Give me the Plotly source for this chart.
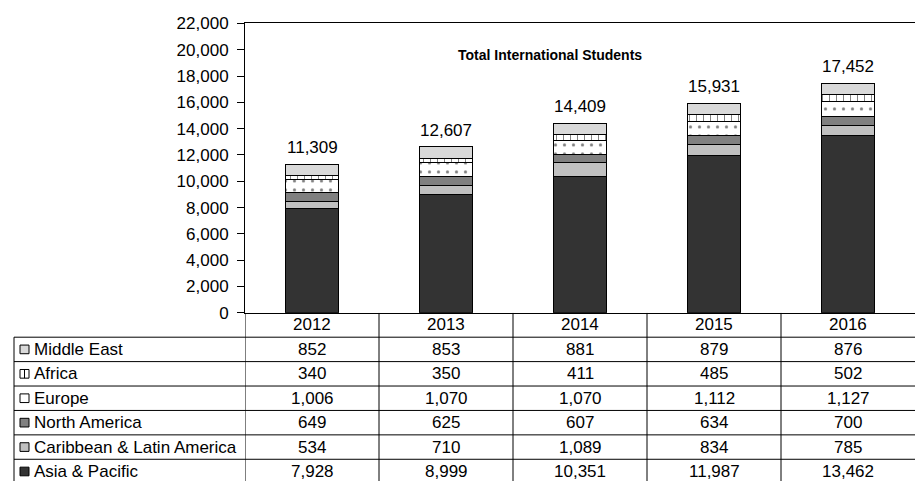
import plotly.graph_objects as go

years = ["2012", "2013", "2014", "2015", "2016"]
asia_pacific = [7928, 8999, 10351, 11987, 13462]
caribbean_latin = [534, 710, 1089, 834, 785]
north_america = [649, 625, 607, 634, 700]
europe = [1006, 1070, 1070, 1112, 1127]
africa = [340, 350, 411, 485, 502]
middle_east = [852, 853, 881, 879, 876]
y_ticks = list(range(0, 22001, 2000))

title_text = "Total International Students"

# stacking order bottom -> top
series = [
    ("Asia & Pacific", asia_pacific, dict(color="#333333")),
    ("Caribbean & Latin America", caribbean_latin, dict(color="#c0c0c0")),
    ("North America", north_america, dict(color="#808080")),
    ("Europe", europe, dict(color="white", pattern=dict(shape=".", fgcolor="black", bgcolor="white", size=9, solidity=0.1))),
    ("Africa", africa, dict(color="white", pattern=dict(shape="|", fgcolor="black", bgcolor="white", size=7, solidity=0.14))),
    ("Middle East", middle_east, dict(color="#d9d9d9")),
]
# table row order top -> bottom
table_order = ["Middle East", "Africa", "Europe", "North America", "Caribbean & Latin America", "Asia & Pacific"]

W, H = 915, 491
FONT = "Liberation Sans, Arial, sans-serif"
FS = 17
plot_left, plot_bottom, plot_top = 245, 316, 15
row_h = 25.4
table_px = H - plot_bottom
table_rows = table_px / row_h
table_left = 14
xidx = list(range(len(years)))

fig = go.Figure()
for name, vals, mk in series:
    fig.add_trace(go.Bar(
        x=xidx, y=vals, name=name, width=0.4,
        marker=dict(**mk, line=dict(color="black", width=1)),
        showlegend=False, hoverinfo="skip",
    ))

totals = [sum(v) for v in zip(*[s[1] for s in series])]

annotations = []
for i, t in zip(xidx, totals):
    annotations.append(dict(x=i, y=t, xref="x", yref="y", text=f"{t:,}",
                            showarrow=False, yanchor="bottom", yshift=5,
                            font=dict(size=FS, color="black", family=FONT)))
annotations.append(dict(x=550 / W, y=1 - 48 / H, xref="paper", yref="paper",
                        text=f"<b>{title_text}</b>", showarrow=False,
                        xanchor="center", yanchor="middle",
                        font=dict(size=14, color="black", family=FONT)))

# header years
for i, yr in zip(xidx, years):
    annotations.append(dict(x=i, y=0.5, xref="x", yref="y2", text=yr, showarrow=False,
                            yanchor="middle",
                            font=dict(size=FS, color="black", family=FONT)))

lookup = {s[0]: s for s in series}
shapes = []
line = dict(color="black", width=1)
sw_half = 4.5 / row_h
for r, name in enumerate(table_order, start=1):
    vals = lookup[name][1]
    annotations.append(dict(x=32 / W, y=r + 0.5, xref="paper", yref="y2", text=name,
                            showarrow=False, xanchor="left", yanchor="middle",
                            font=dict(size=FS, color="black", family=FONT)))
    for i, v in zip(xidx, vals):
        annotations.append(dict(x=i, y=r + 0.5, xref="x", yref="y2", text=f"{v:,}",
                                showarrow=False, yanchor="middle",
                                font=dict(size=FS, color="black", family=FONT)))
    # legend swatch
    shapes.append(dict(type="rect", xref="paper", yref="y2", x0=20 / W, x1=29 / W,
                       y0=r + 0.5 - sw_half, y1=r + 0.5 + sw_half,
                       fillcolor=lookup[name][2]["color"], line=line, layer="above"))
    if name == "Africa":
        shapes.append(dict(type="line", xref="paper", yref="y2", x0=24.5 / W, x1=24.5 / W,
                           y0=r + 0.5 - sw_half, y1=r + 0.5 + sw_half, line=line))

for r in range(1, len(table_order) + 1):
    shapes.append(dict(type="line", xref="paper", yref="y2", x0=table_left / W, x1=1,
                       y0=r, y1=r, line=line))
for i in xidx:
    shapes.append(dict(type="line", xref="x", yref="y2", x0=i - 0.5, x1=i - 0.5,
                       y0=0, y1=table_rows, line=line))
shapes.append(dict(type="line", xref="paper", yref="y2", x0=table_left / W, x1=table_left / W,
                   y0=1, y1=table_rows, line=line))

# keep the second axis alive
fig.add_trace(go.Scatter(x=[0], y=[0.5], xaxis="x", yaxis="y2", mode="markers",
                         marker=dict(opacity=0), showlegend=False, hoverinfo="skip"))

fig.update_layout(
    width=W, height=H,
    margin=dict(l=0, r=0, t=0, b=0),
    paper_bgcolor="white", plot_bgcolor="white",
    barmode="stack",
    font=dict(family=FONT, color="black"),
    xaxis=dict(domain=[plot_left / W, 1], range=[-0.5, len(years) - 0.5],
               showticklabels=False, ticks="", showgrid=False, zeroline=False,
               showline=True, linecolor="black", linewidth=1, mirror=True),
    yaxis=dict(domain=[1 - plot_bottom / H, 1 - plot_top / H], range=[0, 22000],
               tickvals=y_ticks, tickformat=",d", ticks="outside", ticklen=7,
               ticklabelstandoff=5,
               tickcolor="black", tickfont=dict(size=FS, family=FONT, color="black"),
               showgrid=False, zeroline=False, showline=True, linecolor="black",
               linewidth=1),
    yaxis2=dict(domain=[0, 1 - plot_bottom / H], range=[table_rows, 0], anchor="x",
                showticklabels=False, showgrid=False, zeroline=False, showline=False,
                ticks=""),
    annotations=annotations,
    shapes=shapes,
)

post = (
    "var gd=document.getElementById('{plot_id}');"
    "gd.style.position='fixed';gd.style.top='0px';gd.style.left='0px';"
    "document.documentElement.style.margin='0';document.documentElement.style.overflow='hidden';"
    "document.body.style.margin='0';document.body.style.overflow='hidden';"
)
fig.write_html("out.html", config={"displayModeBar": False}, post_script=post)
